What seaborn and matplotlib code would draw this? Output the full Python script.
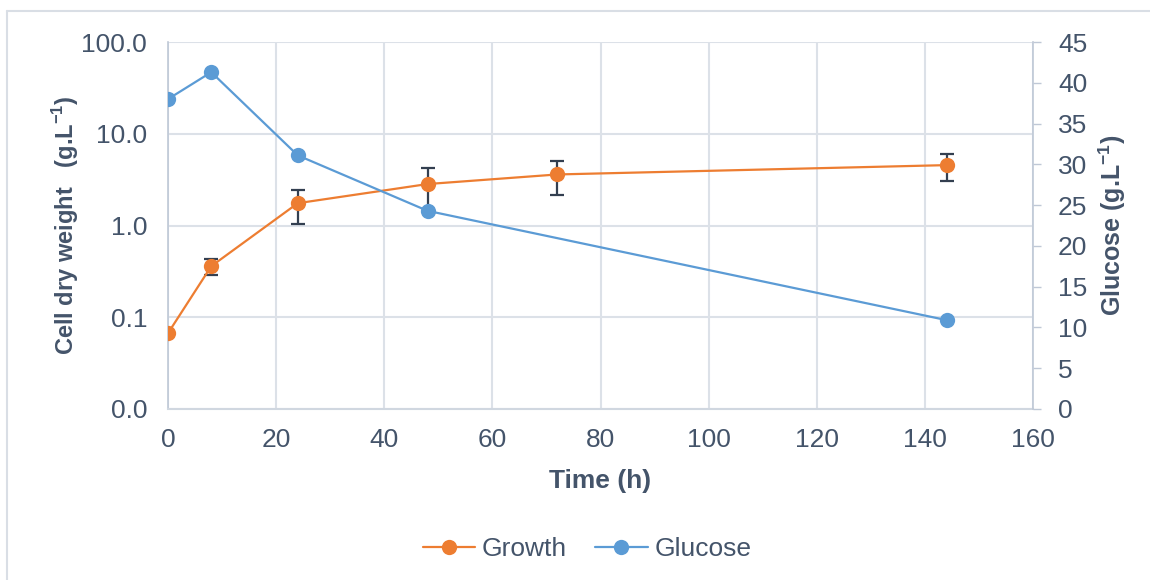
import matplotlib
matplotlib.use("Agg")
import matplotlib.pyplot as plt
import seaborn as sns
import pandas as pd
from matplotlib.ticker import FixedLocator, FuncFormatter
from matplotlib.lines import Line2D

# ---- data ----
time_h = [0, 8, 24, 48, 72, 144]
growth = [0.067, 0.36, 1.75, 2.83, 3.6, 4.55]
growth_err = [0.0, 0.07, 0.7, 1.4, 1.45, 1.5]
glucose_time = [0, 8, 24, 48, 144]
glucose = [38.0, 41.3, 31.1, 24.3, 10.9]

x_ticks = [0, 20, 40, 60, 80, 100, 120, 140, 160]
left_ticks = [0.01, 0.1, 1, 10, 100]
right_ticks = [0, 5, 10, 15, 20, 25, 30, 35, 40, 45]

ORANGE = "#ED7D31"
BLUE = "#5B9BD5"
TXT = "#44546A"
GRID = "#DCE1E8"
FS = 19

sns.set_theme(style="white")
plt.rcParams["font.family"] = ["Liberation Sans", "DejaVu Sans"]

fig = plt.figure(figsize=(11.5, 5.8), dpi=100)
ax = fig.add_axes([168/1150, 1-409/580, (1033-168)/1150, (409-42)/580])
ax2 = ax.twinx()

df_g = pd.DataFrame({"t": time_h, "v": growth})
df_s = pd.DataFrame({"t": glucose_time, "v": glucose})

# Growth on left axis (log)
ax.set_yscale("log")
ax.errorbar(time_h, growth, yerr=growth_err, fmt="none", ecolor="#333F50",
            elinewidth=1.6, capsize=5, capthick=1.6, zorder=2)
sns.lineplot(data=df_g, x="t", y="v", ax=ax, color=ORANGE, marker="o",
             markersize=11, markeredgewidth=0, linewidth=1.6, zorder=3)

# Glucose on right axis (drawn on top)
sns.lineplot(data=df_s, x="t", y="v", ax=ax2, color=BLUE, marker="o",
             markersize=11, markeredgewidth=0, linewidth=1.6, zorder=3)

ax.set_xlim(0, 160)
ax.set_ylim(0.01, 100)
ax2.set_ylim(0, 45)
ax.xaxis.set_major_locator(FixedLocator(x_ticks))
ax.yaxis.set_major_locator(FixedLocator(left_ticks))
ax.yaxis.set_minor_locator(FixedLocator([]))
ax.yaxis.set_major_formatter(FuncFormatter(lambda v, p: f"{v:.1f}"))
ax2.yaxis.set_major_locator(FixedLocator(right_ticks))

ax.grid(True, color=GRID, linewidth=1.5)
ax2.grid(False)

for s in ["top", "right"]:
    ax.spines[s].set_visible(False)
ax.spines["left"].set_color("#BFC8D6")
ax.spines["bottom"].set_color("#D0D7E0")
ax.spines["left"].set_linewidth(1.2)
ax.spines["bottom"].set_linewidth(1.5)
for s in ["top", "left", "bottom"]:
    ax2.spines[s].set_visible(False)
ax2.spines["right"].set_color("#BFC8D6")
ax2.spines["right"].set_linewidth(1.2)

ax.tick_params(axis="x", length=0, pad=14, labelsize=FS, labelcolor=TXT)
ax.tick_params(axis="y", length=0, pad=15, labelsize=FS, labelcolor=TXT)
ax2.tick_params(axis="y", length=6, width=1, color="#BFC8D6", direction="out",
                pad=12, labelsize=FS, labelcolor=TXT)

ax.set_xlabel("Time (h)", fontsize=FS, fontweight="bold", color=TXT, labelpad=12)
ax.set_ylabel("Cell dry weight   (g.L$^{\\mathregular{-1}}$)", fontsize=17,
              fontweight="bold", color=TXT, labelpad=0)
ax2.set_ylabel("Glucose (g.L$^{\\mathregular{-1}}$)", fontsize=18,
               fontweight="bold", color=TXT, labelpad=7)

handles = [
    Line2D([0], [0], color=ORANGE, marker="o", markersize=11, markeredgewidth=0, linewidth=1.6),
    Line2D([0], [0], color=BLUE, marker="o", markersize=11, markeredgewidth=0, linewidth=1.6),
]
leg = fig.legend(handles, ["Growth", "Glucose"], loc="center",
                 bbox_to_anchor=(587/1150, 1-549/580), ncol=2, frameon=False,
                 fontsize=FS, handlelength=2.0, columnspacing=1.05, handletextpad=0.25)
for t in leg.get_texts():
    t.set_color(TXT)

# outer chart border
fig.add_artist(Line2D([7/1150, 1], [1-11/580, 1-11/580], transform=fig.transFigure,
                      color="#D9DEE5", linewidth=1.5))
fig.add_artist(Line2D([7/1150, 7/1150], [0, 1-11/580], transform=fig.transFigure,
                      color="#D9DEE5", linewidth=1.5))

fig.savefig("out.png", dpi=100, facecolor="white")
